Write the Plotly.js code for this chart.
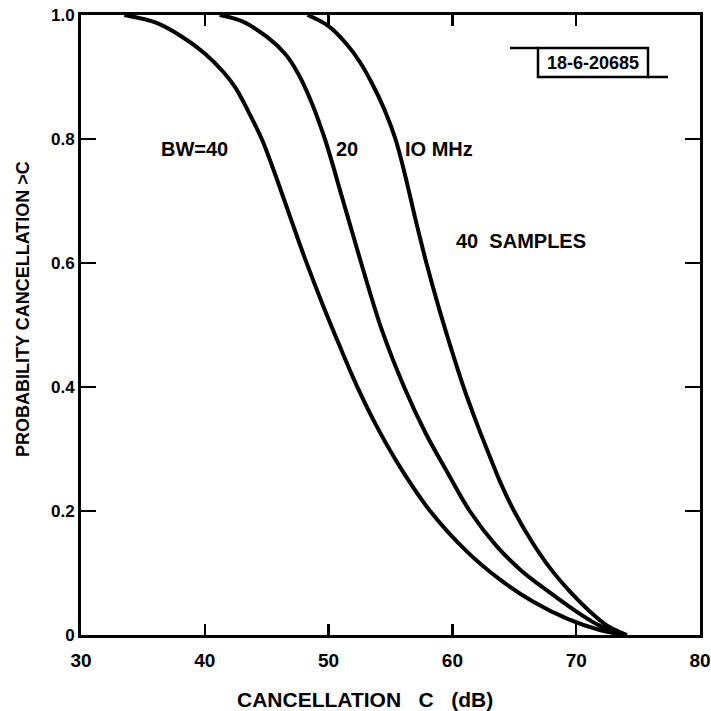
<!DOCTYPE html>
<html>
<head>
<meta charset="utf-8">
<script src="https://cdn.plot.ly/plotly-3.0.1.min.js"></script>
<style>html,body{margin:0;padding:0;background:#fff;}#chart{width:711px;height:711px;}</style>
</head>
<body>
<div id="chart"></div>
<script>
// Cancellation C (dB) vs probability(cancellation > C)
const bw40_x = [33.5, 36.0, 38.0, 40.0, 41.5, 42.5, 43.5, 44.6, 45.7, 46.9, 48.17, 49.5, 50.9, 52.3, 53.9, 55.8, 58.2, 61.2, 63.8, 66.5, 69.3, 71.9, 74.0];
const bw40_y = [1.0, 0.988, 0.967, 0.938, 0.908, 0.882, 0.845, 0.80, 0.742, 0.674, 0.603, 0.534, 0.466, 0.401, 0.336, 0.270, 0.20, 0.134, 0.09, 0.054, 0.026, 0.008, 0.0];

const bw20_x = [41.2, 43.0, 45.0, 46.5, 47.5, 48.5, 49.7, 51.1, 52.6, 54.3, 56.1, 57.8, 59.6, 61.4, 63.5, 65.5, 67.9, 70.0, 72.0, 74.0];
const bw20_y = [1.0, 0.99, 0.965, 0.937, 0.907, 0.865, 0.80, 0.705, 0.602, 0.492, 0.40, 0.327, 0.262, 0.20, 0.145, 0.105, 0.068, 0.038, 0.014, 0.0];

const bw10_x = [48.3, 50.0, 51.5, 52.5, 53.5, 54.5, 55.4, 56.2, 57.0, 57.9, 58.9, 59.9, 60.9, 61.9, 62.9, 63.9, 64.98, 66.5, 68.0, 69.5, 71.0, 72.5, 74.1];
const bw10_y = [1.0, 0.982, 0.952, 0.925, 0.89, 0.848, 0.80, 0.74, 0.672, 0.60, 0.528, 0.462, 0.40, 0.345, 0.294, 0.245, 0.20, 0.148, 0.105, 0.07, 0.04, 0.015, 0.0];

const xTickVals = [30, 40, 50, 60, 70, 80];
const xTickText = ["30", "40", "50", "60", "70", "80"];
const yTickVals = [0, 0.2, 0.4, 0.6, 0.8, 1.0];
const yTickText = ["0", "0.2", "0.4", "0.6", "0.8", "1.0"];

const curveLine = {color: "#000", width: 4, shape: "spline", smoothing: 1};
const traces = [
  {x: bw40_x, y: bw40_y, mode: "lines", line: curveLine, name: "BW=40", hoverinfo: "skip"},
  {x: bw20_x, y: bw20_y, mode: "lines", line: curveLine, name: "20", hoverinfo: "skip"},
  {x: bw10_x, y: bw10_y, mode: "lines", line: curveLine, name: "10 MHz", hoverinfo: "skip"}
];

const FAM = "Liberation Sans, Arial, sans-serif";
const lbl = {family: FAM, size: 20, color: "#000", weight: 700};
const px = (p) => (p - 81) / 619;
const py = (p) => (635 - p) / 620;

const layout = {
  width: 711, height: 711,
  margin: {l: 81, r: 11, t: 15, b: 76},
  paper_bgcolor: "#fff", plot_bgcolor: "#fff",
  showlegend: false,
  xaxis: {
    range: [30, 80], tickvals: xTickVals, ticktext: xTickText,
    ticks: "inside", ticklen: 11, tickwidth: 2.5, tickcolor: "#000",
    showline: true, linewidth: 3, linecolor: "#000", mirror: "ticks",
    showgrid: false, zeroline: false, ticklabelstandoff: 6,
    tickfont: {family: FAM, size: 19, color: "#000", weight: 700}
  },
  yaxis: {
    range: [0, 1.0], tickvals: yTickVals, ticktext: yTickText,
    ticks: "inside", ticklen: 15, tickwidth: 2.5, tickcolor: "#000",
    showline: true, linewidth: 3, linecolor: "#000", mirror: "ticks",
    showgrid: false, zeroline: false,
    tickfont: {family: FAM, size: 17, color: "#000", weight: 700}
  },
  annotations: [
    {xref: "paper", yref: "paper", x: px(365), y: py(699), text: "CANCELLATION   C   (dB)", showarrow: false,
     font: {family: FAM, size: 21, color: "#000", weight: 700}, xanchor: "center", yanchor: "middle"},
    {xref: "paper", yref: "paper", x: px(23), y: py(309), text: "PROBABILITY CANCELLATION &gt;C", showarrow: false,
     font: {family: FAM, size: 18, color: "#000", weight: 700}, textangle: -90, xanchor: "center", yanchor: "middle"},
    {xref: "paper", yref: "paper", x: px(194), y: py(149), text: "BW=40", showarrow: false, font: lbl, xanchor: "center", yanchor: "middle"},
    {xref: "paper", yref: "paper", x: px(347), y: py(149), text: "20", showarrow: false, font: lbl, xanchor: "center", yanchor: "middle"},
    {xref: "paper", yref: "paper", x: px(439), y: py(149), text: "IO MHz", showarrow: false, font: lbl, xanchor: "center", yanchor: "middle"},
    {xref: "paper", yref: "paper", x: px(521), y: py(241), text: "40  SAMPLES", showarrow: false, font: lbl, xanchor: "center", yanchor: "middle"},
    {xref: "paper", yref: "paper", x: px(593), y: py(62.5), text: "18-6-20685", showarrow: false,
     font: {family: FAM, size: 18, color: "#000", weight: 700}, xanchor: "center", yanchor: "middle"}
  ],
  shapes: [
    {type: "rect", xref: "paper", yref: "paper", x0: px(538), x1: px(648), y0: py(77), y1: py(48), line: {color: "#000", width: 2.5}},
    {type: "line", xref: "paper", yref: "paper", x0: px(510), x1: px(538), y0: py(48), y1: py(48), line: {color: "#000", width: 2.5}},
    {type: "line", xref: "paper", yref: "paper", x0: px(648), x1: px(668), y0: py(77), y1: py(77), line: {color: "#000", width: 2.5}}
  ]
};

Plotly.newPlot("chart", traces, layout, {staticPlot: true, displayModeBar: false});
</script>
</body>
</html>
